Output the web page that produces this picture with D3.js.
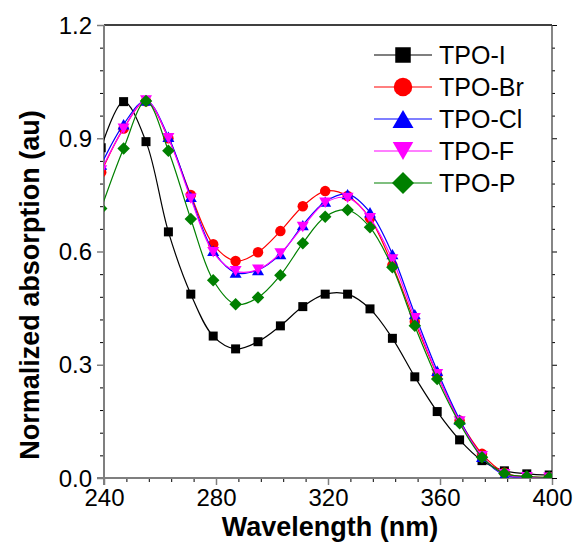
<!DOCTYPE html>
<html>
<head>
<meta charset="utf-8">
<script src="https://cdn.jsdelivr.net/npm/d3@7/dist/d3.min.js"></script>
<style>
  html, body { margin: 0; padding: 0; background: #fff; }
  svg { display: block; font-family: "Liberation Sans", Arial, sans-serif; }
</style>
</head>
<body>
<svg id="chart" width="577" height="549"></svg>
<script>
// wavelength of every marker (nm)
const wavelengths = [239, 247, 255, 263, 271, 279, 287, 295, 303, 311, 319,
                     327, 335, 343, 351, 359, 367, 375, 383, 391, 399];

const tpoI  = [0.875, 0.997, 0.891, 0.652, 0.487, 0.376, 0.342, 0.361, 0.403, 0.454, 0.487,
               0.487, 0.448, 0.370, 0.268, 0.176, 0.101, 0.046, 0.019, 0.011, 0.008];
const tpoBr = [0.810, 0.926, 0.998, 0.900, 0.750, 0.619, 0.575, 0.598, 0.654, 0.720, 0.760,
               0.747, 0.688, 0.564, 0.414, 0.273, 0.152, 0.064, 0.014, 0.003, 0.002];
const tpoCl = [0.830, 0.937, 1.000, 0.904, 0.745, 0.602, 0.544, 0.551, 0.593, 0.670, 0.732,
               0.752, 0.704, 0.593, 0.434, 0.284, 0.155, 0.056, 0.008, 0.002, 0.001];
const tpoF  = [0.815, 0.925, 1.000, 0.900, 0.740, 0.598, 0.548, 0.552, 0.595, 0.665, 0.729,
               0.742, 0.688, 0.579, 0.423, 0.275, 0.150, 0.058, 0.010, 0.002, 0.001];
const tpoP  = [0.714, 0.873, 0.999, 0.867, 0.686, 0.524, 0.460, 0.478, 0.537, 0.622, 0.692,
               0.710, 0.664, 0.558, 0.403, 0.262, 0.145, 0.055, 0.012, 0.004, 0.002];

const seriesNames = ['TPO-I', 'TPO-Br', 'TPO-Cl', 'TPO-F', 'TPO-P'];
const seriesData  = [tpoI, tpoBr, tpoCl, tpoF, tpoP];

const xTicks = [240, 280, 320, 360, 400];
const yTicks = [0.0, 0.3, 0.6, 0.9, 1.2];

// look of each series: colour + marker
const STYLE = [
  { color: '#000000', shape: 'square' },
  { color: '#ff0000', shape: 'circle' },
  { color: '#0000ff', shape: 'triangle' },
  { color: '#ff00ff', shape: 'triangleDown' },
  { color: '#008000', shape: 'diamond' },
];

const L = 104, R = 552, T = 25, B = 478;

const svg = d3.select('#chart');
const x = d3.scaleLinear().domain([240, 400]).range([L, R]);
const y = d3.scaleLinear().domain([0, 1.2]).range([B, T]);

// marker path, scaled by width in px
function markerPath(shape, w) {
  if (shape === 'square') return d3.symbol(d3.symbolSquare, w * w)();
  if (shape === 'circle') return d3.symbol(d3.symbolCircle, Math.PI * w * w / 4)();
  if (shape === 'diamond') {
    const h = w / 2;
    return `M0,${-h}L${h},0L0,${h}L${-h},0Z`;
  }
  // triangles, centred on their box
  const h = w * 0.866;
  if (shape === 'triangle') return `M0,${-h / 2}L${w / 2},${h / 2}L${-w / 2},${h / 2}Z`;
  return `M0,${h / 2}L${w / 2},${-h / 2}L${-w / 2},${-h / 2}Z`;
}
const DATA_W = { square: 9, circle: 10.5, triangle: 12, triangleDown: 12, diamond: 12.5 };
const LEG_W  = { square: 15.5, circle: 18.5, triangle: 21, triangleDown: 20.5, diamond: 22 };

svg.append('defs').append('clipPath').attr('id', 'plotclip')
  .append('rect').attr('x', L).attr('y', T).attr('width', R - L).attr('height', B - T);

// ---- axes ----
const gray = '#7f7f7f';

// minor ticks
const xMinor = d3.range(240, 401, 8).filter(v => !xTicks.includes(v));
const yMinor = d3.range(0, 1.2001, 0.06).map(v => +v.toFixed(2)).filter(v => !yTicks.some(t => Math.abs(t - v) < 1e-6));

function styleAxis(g, col, width) {
  g.select('.domain').remove();
  g.selectAll('.tick line').attr('stroke', col).attr('stroke-width', width);
}

// bottom
svg.append('g').attr('transform', `translate(0,${B})`)
  .call(d3.axisBottom(x).tickValues(xMinor).tickSize(4).tickFormat(''))
  .call(g => styleAxis(g, '#000', 1));
svg.append('g').attr('transform', `translate(0,${B})`)
  .call(d3.axisBottom(x).tickValues(xTicks).tickSize(7).tickPadding(4).tickFormat(d3.format('d')))
  .call(g => styleAxis(g, gray, 1.5))
  .call(g => g.selectAll('text').attr('font-size', 24).attr('fill', '#000'));

// left
svg.append('g').attr('transform', `translate(${L},0)`)
  .call(d3.axisLeft(y).tickValues(yMinor).tickSize(4).tickFormat(''))
  .call(g => styleAxis(g, '#000', 1));
svg.append('g').attr('transform', `translate(${L},0)`)
  .call(d3.axisLeft(y).tickValues(yTicks).tickSize(7).tickPadding(5).tickFormat(d3.format('.1f')))
  .call(g => styleAxis(g, gray, 1.5))
  .call(g => g.selectAll('text').attr('font-size', 24).attr('fill', '#000').attr('dy', '0.34em'));

// right (ticks only, no labels)
svg.append('g').attr('transform', `translate(${R},0)`)
  .call(d3.axisRight(y).tickValues(yMinor).tickSize(3).tickFormat(''))
  .call(g => styleAxis(g, '#000', 1));
svg.append('g').attr('transform', `translate(${R},0)`)
  .call(d3.axisRight(y).tickValues(yTicks).tickSize(5).tickFormat(''))
  .call(g => styleAxis(g, '#000', 1));

// frame
svg.append('line').attr('x1', L).attr('x2', R).attr('y1', T).attr('y2', T)
  .attr('stroke', '#000').attr('stroke-width', 1.3);
svg.append('line').attr('x1', R).attr('x2', R).attr('y1', T).attr('y2', B)
  .attr('stroke', '#444').attr('stroke-width', 1.3);
svg.append('line').attr('x1', L).attr('x2', L).attr('y1', T).attr('y2', B + 7)
  .attr('stroke', gray).attr('stroke-width', 2);
svg.append('line').attr('x1', L - 7).attr('x2', R).attr('y1', B).attr('y2', B)
  .attr('stroke', gray).attr('stroke-width', 2);

// ---- series ----
const plot = svg.append('g').attr('clip-path', 'url(#plotclip)');
const line = d3.line()
  .x((d, i) => x(wavelengths[i]))
  .y(d => y(d))
  .curve(d3.curveCatmullRom.alpha(0.5));

seriesData.forEach((vals, k) => {
  const st = STYLE[k];
  const g = plot.append('g');
  g.append('path').datum(vals)
    .attr('d', line)
    .attr('fill', 'none')
    .attr('stroke', st.color)
    .attr('stroke-width', 1.2);
  g.selectAll('path.mk').data(vals).join('path')
    .attr('class', 'mk')
    .attr('d', markerPath(st.shape, DATA_W[st.shape]))
    .attr('transform', (d, i) => `translate(${x(wavelengths[i])},${y(d)})`)
    .attr('fill', st.color);
});

// ---- legend ----
const leg = svg.append('g');
seriesNames.forEach((name, k) => {
  const st = STYLE[k];
  const cy = 55 + k * 32;
  leg.append('line').attr('x1', 374).attr('x2', 432).attr('y1', cy).attr('y2', cy)
    .attr('stroke', st.color).attr('stroke-width', 1.2);
  leg.append('path').attr('d', markerPath(st.shape, LEG_W[st.shape]))
    .attr('transform', `translate(403,${cy})`).attr('fill', st.color);
  leg.append('text').attr('x', 439).attr('y', cy).attr('dy', '0.36em')
    .attr('font-size', 25).text(name);
});

// ---- titles ----
svg.append('text')
  .attr('x', (L + R) / 2 + 2).attr('y', 536)
  .attr('text-anchor', 'middle')
  .attr('font-size', 27).attr('font-weight', 'bold')
  .text('Wavelength (nm)');

svg.append('text')
  .attr('transform', 'translate(39,285) rotate(-90)')
  .attr('text-anchor', 'middle')
  .attr('font-size', 27).attr('font-weight', 'bold')
  .text('Normalized absorption (au)');
</script>
</body>
</html>
